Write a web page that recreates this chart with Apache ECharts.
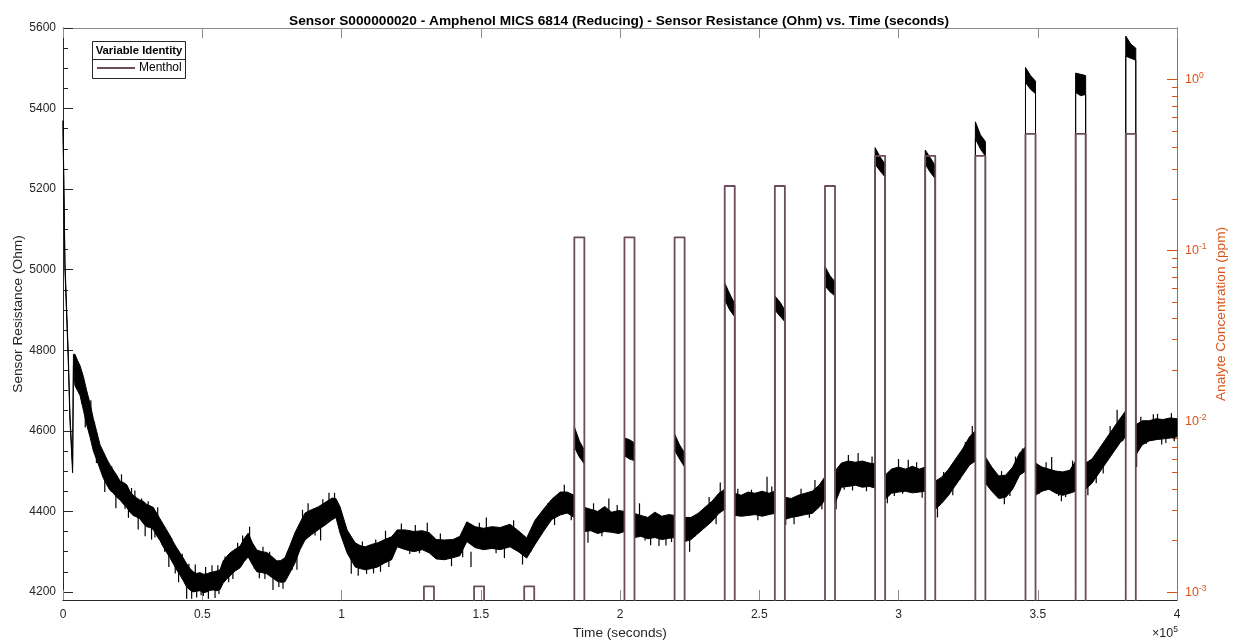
<!DOCTYPE html>
<html>
<head>
<meta charset="utf-8">
<script src="https://cdn.jsdelivr.net/npm/echarts@6/dist/echarts.min.js"></script>
<style>
  html, body { margin: 0; padding: 0; background: #ffffff; }
  #chart { width: 1233px; height: 641px; }
</style>
</head>
<body>
<div id="chart"></div>
<script>
// ---- Sensor resistance trace: [time (s), lower edge (Ohm), upper edge (Ohm)] of the noisy signal band
const resistanceEnvelope = [
  [0, 5348, 5370], [700, 5000, 5020], [1900, 4772, 4790], [2500, 4625, 4640],
  [3450, 4496, 4512], [3750, 4762, 4790], [4300, 4712, 4790], [5200, 4700, 4775],
  [6100, 4688, 4762], [7300, 4652, 4735], [8500, 4615, 4700], [9700, 4585, 4668],
  [10900, 4550, 4630], [12100, 4528, 4598], [13300, 4505, 4565], [14500, 4482, 4548],
  [15700, 4466, 4530], [16900, 4452, 4515], [18000, 4446, 4503], [19300, 4435, 4490],
  [20500, 4428, 4475], [21700, 4418, 4472], [22900, 4410, 4466], [24000, 4398, 4450],
  [25200, 4390, 4440], [26400, 4386, 4434], [27600, 4382, 4428], [28800, 4370, 4425],
  [30000, 4362, 4418], [31200, 4360, 4414], [32400, 4355, 4410], [33600, 4340, 4396],
  [34800, 4328, 4382], [36000, 4312, 4368], [37200, 4298, 4354], [38400, 4285, 4340],
  [39600, 4270, 4324], [40800, 4255, 4310], [42000, 4242, 4297], [43200, 4228, 4284],
  [44400, 4212, 4270], [45600, 4205, 4258], [46800, 4200, 4250], [48000, 4202, 4246],
  [49200, 4203, 4248], [50400, 4198, 4244], [51600, 4200, 4245], [52800, 4204, 4248],
  [54000, 4205, 4250], [55200, 4203, 4252], [56400, 4206, 4255], [57500, 4222, 4277],
  [58800, 4232, 4288], [60000, 4240, 4297], [61800, 4252, 4306], [63600, 4260, 4314],
  [65000, 4275, 4332], [66500, 4287, 4346], [68000, 4268, 4322], [69600, 4250, 4304],
  [71400, 4248, 4300], [73200, 4245, 4298], [75000, 4236, 4288], [76800, 4227, 4277],
  [78200, 4224, 4278], [79700, 4225, 4285], [81500, 4248, 4315], [83300, 4272, 4347],
  [85100, 4305, 4372], [86900, 4329, 4396], [89200, 4342, 4404], [91600, 4354, 4411],
  [94100, 4366, 4422], [96600, 4379, 4433], [98000, 4385, 4432], [99500, 4346, 4411],
  [102000, 4297, 4354], [104900, 4262, 4322], [106700, 4258, 4315], [108500, 4255, 4312],
  [110800, 4258, 4318], [113000, 4262, 4322], [115500, 4272, 4330], [118000, 4280, 4337],
  [120000, 4312, 4354], [123000, 4305, 4354], [126000, 4300, 4350], [129000, 4305, 4352],
  [131500, 4297, 4347], [134000, 4282, 4330], [137000, 4280, 4329], [140000, 4285, 4330],
  [142500, 4290, 4338], [145000, 4325, 4374], [148000, 4310, 4362], [151000, 4305, 4358],
  [154000, 4308, 4362], [157000, 4305, 4360], [160500, 4312, 4368], [163500, 4300, 4352],
  [166500, 4284, 4334], [169500, 4318, 4378], [172500, 4350, 4405], [175500, 4380, 4430],
  [178500, 4391, 4448], [181000, 4396, 4448], [183600, 4385, 4440],
  [183600, 4560, 4610], [185400, 4535, 4575], [187200, 4518, 4552],
  [187200, 4350, 4410], [189500, 4352, 4405], [192000, 4345, 4400], [194500, 4350, 4412],
  [197000, 4348, 4398], [199500, 4345, 4402], [201600, 4350, 4400],
  [201600, 4538, 4582], [203400, 4530, 4578], [205200, 4526, 4570],
  [205200, 4335, 4395], [207500, 4338, 4390], [210000, 4332, 4385], [212500, 4335, 4398],
  [215000, 4330, 4388], [217500, 4333, 4392], [219600, 4335, 4390],
  [219600, 4552, 4592], [221400, 4530, 4565], [223200, 4510, 4545],
  [223200, 4325, 4385], [225500, 4330, 4385], [228000, 4345, 4395], [230500, 4360, 4410],
  [233000, 4375, 4425], [235500, 4395, 4445], [237600, 4405, 4455],
  [237600, 4925, 4967], [239400, 4900, 4940], [241200, 4883, 4915],
  [241200, 4390, 4445], [243500, 4388, 4440], [246000, 4390, 4448], [248500, 4392, 4445],
  [251000, 4388, 4450], [253500, 4392, 4445], [255600, 4395, 4450],
  [255600, 4900, 4935], [257400, 4885, 4920], [259200, 4871, 4900],
  [259200, 4380, 4435], [261500, 4385, 4432], [264000, 4388, 4440], [266500, 4392, 4445],
  [269000, 4395, 4450], [271500, 4410, 4465], [273600, 4428, 4486],
  [273600, 4960, 5008], [275400, 4945, 4985], [277200, 4935, 4970],
  [277200, 4420, 4500], [279500, 4460, 4520], [282000, 4462, 4525], [284500, 4465, 4522],
  [287000, 4460, 4525], [289500, 4462, 4520], [291600, 4458, 4518],
  [291600, 5262, 5303], [293400, 5245, 5280], [295200, 5230, 5262],
  [295200, 4430, 4490], [297500, 4445, 4505], [300000, 4448, 4510], [302500, 4450, 4505],
  [305000, 4446, 4512], [307500, 4448, 4505], [309600, 4450, 4510],
  [309600, 5262, 5297], [311400, 5242, 5278], [313200, 5226, 5258],
  [313200, 4405, 4475], [315500, 4420, 4485], [318000, 4440, 4505], [320500, 4465, 4530],
  [323000, 4490, 4555], [325500, 4515, 4585], [327600, 4525, 4600],
  [327600, 5325, 5367], [329400, 5300, 5335], [331200, 5282, 5318],
  [331200, 4470, 4535], [333500, 4450, 4510], [336000, 4432, 4488], [338500, 4435, 4490],
  [341000, 4455, 4510], [343500, 4490, 4545], [345600, 4500, 4560],
  [345600, 5465, 5502], [347400, 5448, 5482], [349200, 5437, 5468],
  [349200, 4440, 4520], [351500, 4450, 4510], [354000, 4455, 4505], [356500, 4445, 4500],
  [359000, 4440, 4498], [361500, 4445, 4502], [363600, 4450, 4525],
  [363600, 5440, 5488], [365400, 5432, 5485], [367200, 5435, 5482],
  [367200, 4455, 4520], [369500, 4470, 4530], [372000, 4495, 4555], [374500, 4520, 4580],
  [377000, 4545, 4605], [379500, 4570, 4630], [381600, 4585, 4650],
  [381600, 5530, 5580], [383400, 5525, 5560], [385200, 5520, 5550],
  [385200, 4540, 4615], [387500, 4565, 4625], [390000, 4575, 4625], [392500, 4578, 4630],
  [395000, 4580, 4628], [397500, 4582, 4632], [400000, 4585, 4630]
];

// Isolated noise spikes of the resistance signal: [time (s), from (Ohm), to (Ohm)]
const resistanceSpikes = [
  [6800, 4700, 4668], [8000, 4650, 4608], [10000, 4640, 4676], [11300, 4590, 4622],
  [12000, 4560, 4520], [14000, 4520, 4555], [15000, 4480, 4448], [17500, 4480, 4512],
  [19000, 4440, 4408], [21000, 4460, 4492], [22300, 4440, 4406], [23500, 4420, 4384],
  [24600, 4420, 4458], [25800, 4420, 4452], [27000, 4400, 4355], [28200, 4400, 4432],
  [29500, 4380, 4338], [30600, 4390, 4425], [31800, 4370, 4330], [33000, 4380, 4335],
  [34000, 4380, 4410], [35400, 4350, 4318], [36500, 4340, 4300], [38000, 4300, 4262],
  [39000, 4300, 4334], [40300, 4280, 4246], [41500, 4260, 4224], [42800, 4260, 4295],
  [44400, 4230, 4183], [45200, 4240, 4270], [46200, 4230, 4183], [47500, 4240, 4268],
  [48000, 4225, 4186], [49600, 4222, 4192], [50400, 4222, 4190], [51200, 4230, 4262],
  [52200, 4225, 4183], [53500, 4240, 4266], [54600, 4230, 4185], [55600, 4230, 4266],
  [56000, 4230, 4195], [58200, 4250, 4288], [59500, 4260, 4224], [61000, 4280, 4232],
  [62700, 4290, 4322], [64500, 4300, 4340], [67000, 4320, 4362], [68700, 4290, 4258],
  [70500, 4270, 4234], [71800, 4280, 4312], [72500, 4280, 4232], [74200, 4265, 4300],
  [75400, 4260, 4205], [77500, 4250, 4212], [79000, 4240, 4208], [80600, 4260, 4300],
  [82300, 4290, 4255], [84000, 4300, 4255], [86000, 4370, 4404], [88000, 4380, 4420],
  [90500, 4370, 4340], [92500, 4360, 4328], [93300, 4400, 4430], [95500, 4400, 4446],
  [97500, 4400, 4446], [100700, 4330, 4360], [103500, 4300, 4245], [106000, 4290, 4240],
  [107500, 4290, 4325], [109000, 4290, 4245], [111500, 4290, 4246], [112300, 4300, 4330],
  [114000, 4300, 4250], [115800, 4320, 4352], [117000, 4300, 4262], [121500, 4330, 4370],
  [124500, 4330, 4294], [126500, 4340, 4366], [128000, 4330, 4296], [130800, 4340, 4372],
  [133000, 4320, 4288], [135500, 4310, 4345], [139500, 4300, 4264], [143500, 4320, 4286],
  [146500, 4300, 4262], [149500, 4340, 4372], [152000, 4350, 4385], [155500, 4330, 4296],
  [158500, 4320, 4284], [161800, 4340, 4378], [165000, 4300, 4268], [168000, 4300, 4336],
  [172000, 4380, 4345], [174000, 4380, 4420], [176500, 4400, 4366], [180000, 4430, 4466],
  [182500, 4410, 4378], [188500, 4360, 4322], [190500, 4380, 4420], [193500, 4370, 4338],
  [196000, 4400, 4432], [199000, 4380, 4416], [207000, 4380, 4420], [209000, 4360, 4328],
  [211000, 4350, 4316], [214000, 4350, 4314], [216500, 4350, 4315], [218500, 4360, 4324],
  [225000, 4340, 4300], [227000, 4370, 4338], [229500, 4370, 4402], [232000, 4400, 4436],
  [234500, 4400, 4368], [236000, 4420, 4472], [242300, 4420, 4456], [244500, 4420, 4388],
  [247200, 4420, 4454], [249500, 4420, 4378], [252800, 4440, 4486], [254500, 4420, 4462],
  [259500, 4400, 4366], [262500, 4400, 4368], [265000, 4420, 4456], [268000, 4420, 4384],
  [270000, 4445, 4478], [272500, 4440, 4405], [277600, 4460, 4405], [280500, 4490, 4454],
  [282000, 4500, 4540], [283500, 4490, 4452], [285500, 4510, 4545], [288500, 4490, 4450],
  [290500, 4500, 4536], [296000, 4460, 4420], [298500, 4470, 4438], [300000, 4490, 4530],
  [301500, 4480, 4444], [303500, 4490, 4528], [306500, 4480, 4522], [308500, 4470, 4434],
  [314000, 4420, 4385], [316200, 4460, 4498], [317000, 4470, 4438], [319500, 4470, 4440],
  [322000, 4510, 4478], [324000, 4530, 4572], [326500, 4560, 4612], [334500, 4480, 4444],
  [337000, 4460, 4500], [338000, 4450, 4418], [340000, 4470, 4438], [342000, 4510, 4536],
  [344500, 4520, 4556], [350500, 4480, 4444], [353000, 4480, 4522], [355000, 4500, 4535],
  [357500, 4470, 4438], [358500, 4460, 4425], [360000, 4470, 4436], [362500, 4480, 4526],
  [368000, 4470, 4440], [370500, 4500, 4540], [371000, 4510, 4470], [373500, 4530, 4494],
  [376000, 4570, 4612], [378500, 4620, 4652], [380500, 4610, 4574], [385500, 4560, 4510],
  [387000, 4590, 4635], [389000, 4600, 4568], [391500, 4600, 4641], [393000, 4610, 4642],
  [394500, 4600, 4566], [396000, 4600, 4570], [398000, 4610, 4644], [399000, 4600, 4574]
];

// ---- Menthol exposure schedule (analyte concentration, ppm)
const pulseStart = [129600, 147600, 165600, 183600, 201600, 219600, 237600, 255600,
                    273600, 291600, 309600, 327600, 345600, 363600, 381600];
const pulseEnd   = [133200, 151200, 169200, 187200, 205200, 223200, 241200, 259200,
                    277200, 295200, 313200, 331200, 349200, 367200, 385200];
const pulseLevel = [0.00108, 0.00108, 0.00108, 0.119, 0.119, 0.119, 0.238, 0.238,
                    0.238, 0.357, 0.357, 0.357, 0.48, 0.48, 0.48];
// zero concentration cannot sit on a log axis; it is drawn below the visible range
const zeroFloor = 1e-4;

// ---- Axis ranges and ticks
const timeRange = [0, 400000];
const timeTicks = [0, 50000, 100000, 150000, 200000, 250000, 300000, 350000, 400000];
const resistanceRange = [4180, 5600];
const resistanceTicks = [4200, 4400, 4600, 4800, 5000, 5200, 5400, 5600];
const resistanceMinorTicks = [4250, 4300, 4350, 4450, 4500, 4550, 4650, 4700, 4750, 4850,
  4900, 4950, 5050, 5100, 5150, 5250, 5300, 5350, 5450, 5500, 5550];
const concentrationRange = [0.0009, 2];
const concentrationTicks = [0.001, 0.01, 0.1, 1];
const concentrationMinorTicks = [0.002, 0.003, 0.004, 0.005, 0.006, 0.007, 0.008, 0.009,
  0.02, 0.03, 0.04, 0.05, 0.06, 0.07, 0.08, 0.09,
  0.2, 0.3, 0.4, 0.5, 0.6, 0.7, 0.8, 0.9];

const FONT = '"Liberation Sans", Arial, Helvetica, sans-serif';
const TEXT = '#262626';
const ORANGE = '#D95319';
const MAUVE = '#6b4d5d';

// Step-shaped concentration profile built from the exposure schedule
const concentrationData = [[timeRange[0], zeroFloor]];
pulseStart.forEach((s, i) => {
  concentrationData.push([s, zeroFloor], [s, pulseLevel[i]],
                         [pulseEnd[i], pulseLevel[i]], [pulseEnd[i], zeroFloor]);
});
concentrationData.push([timeRange[1], zeroFloor]);

const chart = echarts.init(document.getElementById('chart'), null, { renderer: 'canvas' });

const option = {
  animation: false,
  backgroundColor: '#ffffff',
  textStyle: { fontFamily: FONT },
  title: {
    text: 'Sensor S000000020 - Amphenol MICS 6814 (Reducing) - Sensor Resistance (Ohm) vs. Time (seconds)',
    left: 614, top: 9, textAlign: 'center',
    textStyle: { fontFamily: FONT, fontSize: 13.7, fontWeight: 'bold', color: '#000' }
  },
  grid: { left: 63, right: 56, top: 28, bottom: 41, containLabel: false, outerBoundsMode: 'none' },
  legend: {
    data: ['Menthol'],
    left: 93, top: 58, padding: [4, 4],
    icon: 'rect', itemWidth: 38, itemHeight: 2, itemGap: 0,
    textStyle: { fontFamily: FONT, fontSize: 12, color: '#000', padding: [0, 0, 0, -1] },
    z: 6
  },
  graphic: [
    { type: 'rect', z: 5, shape: { x: 92.5, y: 41.5, width: 93, height: 37 },
      style: { fill: '#ffffff', stroke: '#262626', lineWidth: 1 } },
    { type: 'line', z: 5, shape: { x1: 92.5, y1: 59.5, x2: 185.5, y2: 59.5 },
      style: { stroke: '#262626', lineWidth: 1 } },
    { type: 'text', z: 6, x: 139, y: 51,
      style: { text: 'Variable Identity', fontFamily: FONT, fontSize: 11.3, fontWeight: 'bold',
               fill: '#000', align: 'center', verticalAlign: 'middle' } },
    { type: 'text', z: 6, x: 1178, y: 634,
      style: { text: '{m|×10}{s|5}', align: 'right', verticalAlign: 'middle',
               rich: { m: { fontFamily: FONT, fontSize: 12.5, fill: TEXT },
                       s: { fontFamily: FONT, fontSize: 8.5, fill: TEXT, padding: [0, 0, 8, 0] } } } }
  ],
  xAxis: [
    {
      type: 'value', position: 'bottom', min: timeRange[0], max: timeRange[1],
      splitLine: { show: false },
      axisLine: { onZero: false, lineStyle: { color: TEXT, width: 1 } },
      axisTick: { inside: true, length: 10, customValues: timeTicks,
                  lineStyle: { color: '#8c8c8c' } },
      axisLabel: { customValues: timeTicks, color: TEXT, fontSize: 12, margin: 9,
                   formatter: v => String(v / 100000) },
      name: 'Time (seconds)', nameLocation: 'middle', nameGap: 24,
      nameTextStyle: { color: TEXT, fontSize: 13.7, fontFamily: FONT }
    },
    {
      type: 'value', position: 'top', min: timeRange[0], max: timeRange[1],
      splitLine: { show: false },
      axisLine: { onZero: false, lineStyle: { color: '#8c8c8c', width: 1 } },
      axisTick: { inside: true, length: 10, customValues: timeTicks,
                  lineStyle: { color: '#8c8c8c' } },
      axisLabel: { show: false }
    }
  ],
  yAxis: [
    {
      type: 'value', position: 'left', min: resistanceRange[0], max: resistanceRange[1],
      splitLine: { show: false },
      axisLine: { show: true, onZero: false, lineStyle: { color: TEXT, width: 1 } },
      axisTick: { show: true, inside: true, length: 10, customValues: resistanceTicks,
                  lineStyle: { color: TEXT } },
      axisLabel: { customValues: resistanceTicks, color: TEXT, fontSize: 12, margin: 7,
                   formatter: v => String(v) },
      name: 'Sensor Resistance (Ohm)', nameLocation: 'middle', nameGap: 38, nameRotate: 90,
      nameMoveOverlap: false,
      nameTextStyle: { color: TEXT, fontSize: 13.7, fontFamily: FONT }
    },
    {
      type: 'log', logBase: 10, position: 'right',
      min: concentrationRange[0], max: concentrationRange[1],
      splitLine: { show: false },
      axisLine: { show: true, onZero: false, lineStyle: { color: ORANGE, width: 1 } },
      axisTick: { show: true, inside: true, length: 10, customValues: concentrationTicks,
                  lineStyle: { color: ORANGE } },
      axisLabel: {
        customValues: concentrationTicks, margin: 8,
        formatter: v => '{b|10}{s|' + Math.round(Math.log10(v)) + '}',
        rich: {
          b: { fontFamily: FONT, fontSize: 12.5, color: ORANGE },
          s: { fontFamily: FONT, fontSize: 8.5, color: ORANGE, padding: [0, 0, 8, 0] }
        }
      },
      name: 'Analyte Concentration (ppm)', nameLocation: 'middle', nameGap: 37, nameRotate: 90,
      nameMoveOverlap: false,
      nameTextStyle: { color: ORANGE, fontSize: 13.7, fontFamily: FONT }
    },
    {
      type: 'value', position: 'left', min: resistanceRange[0], max: resistanceRange[1],
      splitLine: { show: false }, axisLine: { show: false, onZero: false },
      axisTick: { show: true, inside: true, length: 5, customValues: resistanceMinorTicks,
                  lineStyle: { color: TEXT } },
      axisLabel: { show: false }
    },
    {
      type: 'log', logBase: 10, position: 'right',
      min: concentrationRange[0], max: concentrationRange[1],
      splitLine: { show: false }, axisLine: { show: false, onZero: false },
      axisTick: { show: true, inside: true, length: 5, customValues: concentrationMinorTicks,
                  lineStyle: { color: ORANGE } },
      axisLabel: { show: false }
    }
  ],
  series: [
    {
      name: 'Sensor Resistance',
      type: 'custom',
      xAxisIndex: 0, yAxisIndex: 0, z: 2,
      data: [[resistanceEnvelope[0][0], resistanceEnvelope[0][1]]],
      renderItem: (params, api) => {
        const upper = resistanceEnvelope.map(r => api.coord([r[0], r[2]]));
        const lower = resistanceEnvelope.map(r => api.coord([r[0], r[1]])).reverse();
        return {
          type: 'polygon',
          shape: { points: upper.concat(lower) },
          style: { fill: '#000', stroke: '#000', lineWidth: 1 }
        };
      }
    },
    {
      name: 'Resistance spikes',
      type: 'custom',
      xAxisIndex: 0, yAxisIndex: 0, z: 2,
      data: resistanceSpikes,
      renderItem: (params, api) => {
        const a = api.coord([api.value(0), api.value(1)]);
        const b = api.coord([api.value(0), api.value(2)]);
        return {
          type: 'line',
          shape: { x1: a[0], y1: a[1], x2: b[0], y2: b[1] },
          style: { stroke: '#000', lineWidth: 1.2 }
        };
      }
    },
    {
      name: 'Menthol',
      type: 'line',
      xAxisIndex: 0, yAxisIndex: 1, z: 3,
      data: concentrationData,
      showSymbol: false, symbol: 'none',
      clip: true,
      itemStyle: { color: MAUVE },
      lineStyle: { color: MAUVE, width: 1.8, join: 'round' }
    }
  ]
};

chart.setOption(option);
</script>
</body>
</html>
